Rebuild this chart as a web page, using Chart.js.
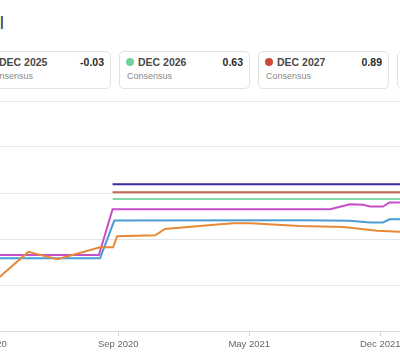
<!DOCTYPE html>
<html>
<head>
<meta charset="utf-8">
<script src="https://cdn.jsdelivr.net/npm/chart.js@4/dist/chart.umd.min.js"></script>
<style>
  html, body { margin: 0; padding: 0; background: #fff; }
  #frame { position: relative; width: 400px; height: 362px; overflow: hidden; font-family: "Liberation Sans", Arial, sans-serif; }
  .title { position: absolute; right: 396px; top: 13px; font-size: 19px; line-height: 19px; color: #444; white-space: nowrap; }
  .card { position: absolute; top: 51px; width: 129px; height: 36px; border: 1px solid #e2e2e2; border-radius: 5px; background: #fff; }
  .card .dot { position: absolute; left: 6px; top: 6px; width: 8px; height: 8px; border-radius: 50%; }
  .card .name { position: absolute; left: 18px; top: 4px; font-size: 10.5px; line-height: 12px; font-weight: bold; color: #4a4a4a; white-space: nowrap; }
  .card .val { position: absolute; right: 6px; top: 4px; font-size: 10.5px; line-height: 12px; font-weight: bold; color: #2a2a2a; }
  .card .sub { position: absolute; left: 7px; top: 19px; font-size: 9px; line-height: 11px; color: #8a8a8a; }
  #chartBox { position: absolute; left: -60px; top: 90px; width: 520px; height: 272px; }
</style>
</head>
<body>
<div id="frame">
  <div class="title">Annual</div>
  <div id="cards"></div>
  <div id="chartBox"><canvas id="epsChart"></canvas></div>
</div>
<script>
// Summary cards
const cardNames = ['DEC 2025', 'DEC 2026', 'DEC 2027', 'DEC 2028'];
const cardValues = ['-0.03', '0.63', '0.89', ''];
const cardColors = ['#c54fc9', '#6fd0a0', '#c84a3a', '#3b2a9e'];

// X axis ticks
const tickDates = ['2020-01-29', '2020-09-15', '2021-05-03', '2021-12-19'];
const tickLabels = ['Jan 2020', 'Sep 2020', 'May 2021', 'Dec 2021'];

// Estimate series (date of revision, consensus value)
const orangeDates = ['2020-01-16', '2020-02-20', '2020-04-10', '2020-05-31', '2020-08-14', '2020-09-06', '2020-09-13', '2020-11-19', '2020-12-06', '2021-03-13', '2021-04-05', '2021-05-05', '2021-07-31', '2021-10-15', '2021-12-14', '2022-01-23', '2022-05-08'];
const orangeValues = [0.40, 0.59, 0.86, 0.78, 0.91, 0.91, 1.03, 1.04, 1.11, 1.16, 1.17, 1.17, 1.14, 1.13, 1.09, 1.08, 1.08];

const blueDates = ['2019-11-07', '2020-08-14', '2020-09-08', '2021-07-31', '2021-10-27', '2021-12-01', '2021-12-24', '2022-01-04', '2022-05-08'];
const blueValues = [0.79, 0.79, 1.20, 1.205, 1.198, 1.18, 1.18, 1.214, 1.214];

const magentaDates = ['2019-11-07', '2020-08-12', '2020-09-05', '2021-09-22', '2021-10-27', '2021-11-19', '2021-12-01', '2021-12-24', '2022-01-04', '2022-05-08'];
const magentaValues = [0.826, 0.826, 1.323, 1.323, 1.377, 1.373, 1.353, 1.353, 1.397, 1.397];

const greenDates = ['2020-09-05', '2022-05-08'];
const greenValues = [1.435, 1.435];

const redDates = ['2020-09-05', '2022-05-08'];
const redValues = [1.508, 1.508];

const navyDates = ['2020-09-05', '2022-05-08'];
const navyValues = [1.595, 1.595];

const DAY0 = Date.UTC(2020, 0, 1);
function dayOf(str) {
    return (Date.parse(str + 'T00:00:00Z') - DAY0) / 86400000;
}
function points(dates, values) {
    return dates.map((d, i) => ({ x: dayOf(d), y: values[i] }));
}

// Build the cards row
function buildCards() {
    const holder = document.getElementById('cards');
    cardNames.forEach((name, i) => {
        const card = document.createElement('div');
        card.className = 'card';
        card.style.left = (-20 + i * 139) + 'px';
        card.innerHTML =
            '<span class="dot" style="background:' + cardColors[i] + '"></span>' +
            '<span class="name">' + name + '</span>' +
            '<span class="val">' + cardValues[i] + '</span>' +
            '<span class="sub">Consensus</span>';
        holder.appendChild(card);
    });
}

let epsChart;

function initChart() {
    const ctx = document.getElementById('epsChart');
    const tickDays = tickDates.map(dayOf);

    const line = (label, color, data) => ({
        label: label,
        data: data,
        borderColor: color,
        backgroundColor: color,
        borderWidth: 2,
        pointRadius: 0,
        tension: 0,
        fill: false
    });

    Chart.defaults.font.family = '"Liberation Sans", Arial, sans-serif';

    epsChart = new Chart(ctx, {
        type: 'line',
        data: {
            datasets: [
                line('DEC 2022', '#e8893a', points(orangeDates, orangeValues)),
                line('DEC 2023', '#4a9cd6', points(blueDates, blueValues)),
                line('DEC 2024', '#c54fc9', points(magentaDates, magentaValues)),
                line('DEC 2026', '#84d8a8', points(greenDates, greenValues)),
                line('DEC 2027', '#c8664f', points(redDates, redValues)),
                line('DEC 2028', '#3b2a9e', points(navyDates, navyValues))
            ]
        },
        options: {
            responsive: true,
            maintainAspectRatio: false,
            animation: false,
            layout: { padding: { top: 11, left: 0, right: 0, bottom: 0 } },
            plugins: {
                legend: { display: false },
                tooltip: { enabled: false }
            },
            scales: {
                x: {
                    type: 'linear',
                    min: dayOf('2019-11-07'),
                    max: dayOf('2022-05-08'),
                    afterBuildTicks: (scale) => {
                        scale.ticks = tickDays.map(v => ({ value: v }));
                    },
                    afterFit: (scale) => { scale.height = 31; },
                    grid: {
                        drawOnChartArea: false,
                        drawTicks: true,
                        tickLength: 5,
                        color: '#d6d6d6'
                    },
                    border: { display: true, color: '#dcdcdc' },
                    ticks: {
                        autoSkip: false,
                        maxRotation: 0,
                        padding: 3,
                        color: '#666',
                        font: { size: 9.5 },
                        callback: (value) => {
                            const i = tickDays.indexOf(value);
                            return i >= 0 ? tickLabels[i] : '';
                        }
                    }
                },
                y: {
                    min: 0,
                    max: 2.5,
                    ticks: { display: false, stepSize: 0.5 },
                    grid: { color: '#e6e6e6', drawTicks: false },
                    border: { display: false }
                }
            }
        }
    });
}

buildCards();
initChart();
</script>
</body>
</html>
